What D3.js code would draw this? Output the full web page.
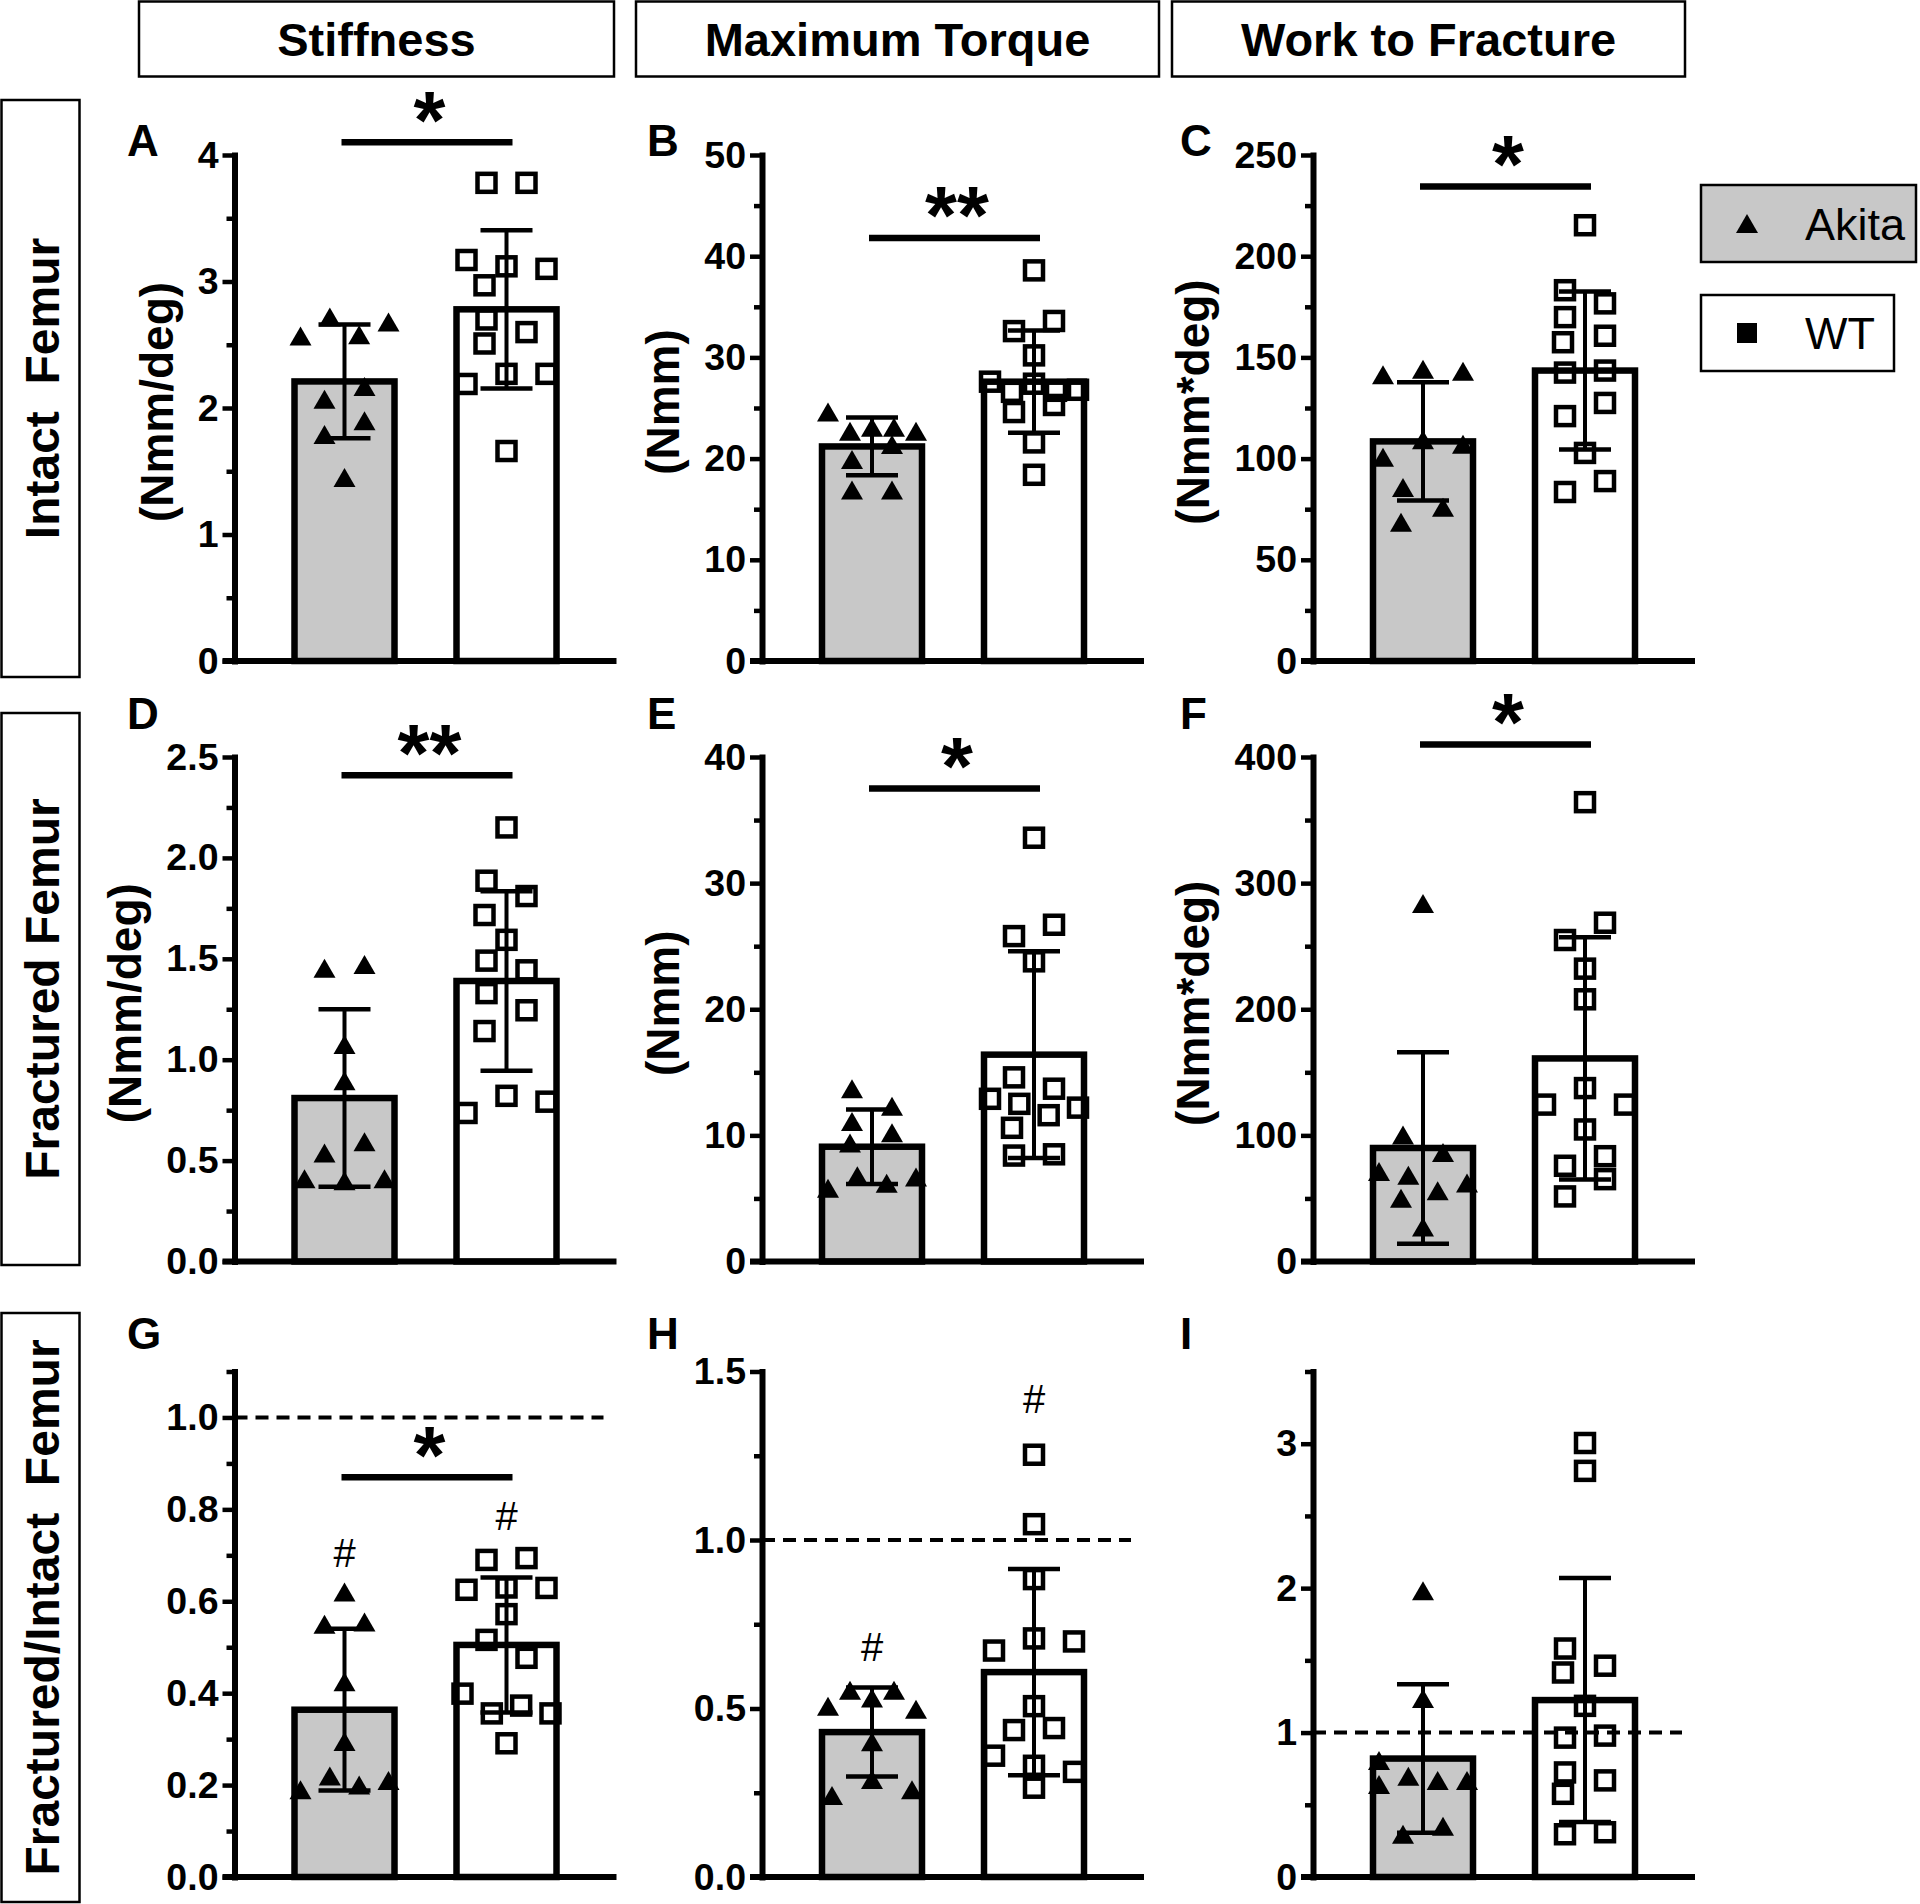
<!DOCTYPE html>
<html><head><meta charset="utf-8">
<script src="https://cdn.jsdelivr.net/npm/d3@7"></script>
<style>
html,body{margin:0;padding:0;background:#fff;}
svg{display:block;font-family:"Liberation Sans",Arial,Helvetica,sans-serif;}
</style></head><body>
<svg id="chart" width="1920" height="1904"></svg>
<script>
// ---------------- data ----------------
const groups = ["Akita", "WT"];
const columnTitles = ["Stiffness", "Maximum Torque", "Work to Fracture"];
const rowTitles = ["Intact  Femur", "Fractured Femur", "Fractured/Intact  Femur"];
const panelLetters = ["A","B","C","D","E","F","G","H","I"];
const yUnitLabels = ["(Nmm/deg)","(Nmm)","(Nmm*deg)","(Nmm/deg)","(Nmm)","(Nmm*deg)","","",""];
const yMax = [4, 50, 250, 2.5, 40, 400, 1.1, 1.5, 3.5];
const yTickLabels = [
  ["0","1","2","3","4"],
  ["0","10","20","30","40","50"],
  ["0","50","100","150","200","250"],
  ["0.0","0.5","1.0","1.5","2.0","2.5"],
  ["0","10","20","30","40"],
  ["0","100","200","300","400"],
  ["0.0","0.2","0.4","0.6","0.8","1.0"],
  ["0.0","0.5","1.0","1.5"],
  ["0","1","2","3"]
];
const yMinorStep = [0.5, 5, 25, 0.25, 5, 50, 0.1, 0.25, 0.5];

const akitaValues = [
  [2.57, 2.72, 2.58, 2.68, 2.07, 2.17, 1.79, 1.90, 1.45],
  [24.6, 22.7, 23.1, 23.1, 22.7, 19.9, 21.4, 16.9, 16.9],
  [141.4, 144.2, 143.1, 100.7, 109.3, 107.1, 85.7, 76.0, 68.6],
  [1.453, 1.472, 1.075, 0.896, 0.538, 0.594, 0.41, 0.40, 0.41],
  [13.7, 12.3, 11.1, 9.4, 10.2, 5.8, 6.8, 6.2, 6.7],
  [283.8, 100.2, 71.3, 86.5, 68.3, 56.1, 62.2, 50.1, 27.3],
  [0.62, 0.55, 0.555, 0.425, 0.295, 0.19, 0.22, 0.20, 0.21],
  [0.507, 0.554, 0.531, 0.554, 0.498, 0.401, 0.242, 0.289, 0.259],
  [1.982, 1.236, 0.807, 0.697, 0.669, 0.669, 0.641, 0.296, 0.351]
];
const wtValues = [
  [3.78, 3.78, 3.17, 3.12, 3.10, 2.97, 2.70, 2.60, 2.51, 2.19, 2.27, 2.27, 1.66],
  [38.6, 32.6, 33.6, 30.2, 27.6, 26.6, 27.4, 26.7, 26.8, 24.6, 25.3, 21.6, 18.4],
  [215.3, 183.2, 176.7, 169.9, 160.7, 157.5, 142.5, 143.5, 121.0, 127.5, 102.8, 83.5, 88.9],
  [2.151, 1.887, 1.811, 1.717, 1.594, 1.491, 1.443, 1.330, 1.245, 1.142, 0.736, 0.821, 0.792],
  [33.6, 25.8, 26.7, 23.8, 14.6, 12.9, 13.7, 12.5, 11.6, 12.2, 10.6, 8.4, 8.5],
  [364.2, 254.9, 268.6, 232.2, 207.9, 124.4, 137.5, 124.4, 104.7, 75.9, 83.5, 51.6, 65.3],
  [0.69, 0.694, 0.625, 0.63, 0.629, 0.572, 0.516, 0.477, 0.399, 0.356, 0.373, 0.356, 0.291],
  [1.253, 1.047, 0.884, 0.672, 0.708, 0.699, 0.507, 0.436, 0.442, 0.36, 0.33, 0.312, 0.265],
  [3.005, 2.812, 1.582, 1.463, 1.416, 1.185, 0.965, 0.979, 0.724, 0.669, 0.576, 0.296, 0.31]
];
const akitaMean = [2.21, 21.2, 108.5, 0.81, 9.1, 90, 0.364, 0.43, 0.82];
const akitaSD   = [0.45, 2.85, 29.2, 0.44, 2.95, 76, 0.176, 0.132, 0.514];
const wtMean    = [2.78, 27.6, 143.5, 1.39, 16.4, 161, 0.505, 0.608, 1.225];
const wtSD      = [0.625, 5.05, 39, 0.445, 8.2, 96, 0.147, 0.306, 0.845];

const sigLabels = ["*", "**", "*", "**", "*", "*", "*", "", ""];
const sigLevel  = [4.1, 41.8, 234.4, 2.41, 37.5, 410, 0.87, null, null];
const refLineValue = [null, null, null, null, null, null, 1, 1, 1];
const hashAkita = [null, null, null, null, null, null, 0.705, 0.683, null];
const hashWT    = [null, null, null, null, null, null, 0.786, 1.42, null];

const legendItems = ["Akita", "WT"];

// ---------------- layout ----------------
const svg = d3.select("#chart");
const colX = [234.5, 762, 1313];
const rowRange = [[661, 155], [1261.5, 757], [1877, 1371.5]];
const letterX = [127, 647, 1180];
const letterY = [156, 729, 1349];
const headerBoxes = [[139, 614], [636, 1159], [1172, 1685]];
const rowBoxes = [[100, 677], [713, 1265], [1313, 1902]];
const fillAkita = "#c8c8c8";
const triPath = "M0,-9.5L11,9.5L-11,9.5Z";

// header boxes
columnTitles.forEach((t, i) => {
  const [x0, x1] = headerBoxes[i];
  svg.append("rect").attr("x", x0).attr("y", 1.5).attr("width", x1 - x0).attr("height", 75)
    .attr("fill", "none").attr("stroke", "#000").attr("stroke-width", 2.5);
  svg.append("text").attr("x", (x0 + x1) / 2).attr("y", 56).attr("text-anchor", "middle")
    .attr("font-size", 47).attr("font-weight", "bold").text(t);
});
// row boxes
rowTitles.forEach((t, i) => {
  const [y0, y1] = rowBoxes[i];
  svg.append("rect").attr("x", 1.5).attr("y", y0).attr("width", 78).attr("height", y1 - y0)
    .attr("fill", "none").attr("stroke", "#000").attr("stroke-width", 2.5);
  svg.append("text").attr("transform", `translate(42,${(y0 + y1) / 2}) rotate(-90)`)
    .attr("text-anchor", "middle").attr("dominant-baseline", "central")
    .attr("font-size", 48).attr("font-weight", "bold").style("white-space", "pre").text(t);
});

// symmetric row-based scatter layout (GraphPad style)
function scatterOffsets(values, y) {
  const ROW_H = 20.5, MS = 21;
  const idx = values.map((v, i) => i).sort((a, b) => values[b] - values[a] || a - b);
  const rows = [];
  let cur = null;
  idx.forEach(i => {
    const py = y(values[i]);
    if (cur && py - cur.y0 < ROW_H) cur.items.push(i);
    else { cur = { y0: py, items: [i] }; rows.push(cur); }
  });
  const off = new Array(values.length);
  const placed = [];
  rows.forEach(r => {
    r.items.sort((a, b) => a - b);
    const n = r.items.length;
    if (n === 1) {
      const i = r.items[0], py = y(values[i]);
      const cands = [0, -22, 22, -44, 44];
      let o = cands.find(c => placed.every(p => Math.abs(p.x - c) >= MS || Math.abs(p.y - py) >= MS));
      if (o === undefined) o = 0;
      off[i] = o; placed.push({ x: o, y: py });
    } else {
      const s = Math.min(40, 88 / (n - 1));
      r.items.forEach((i, k) => {
        off[i] = (k - (n - 1) / 2) * s;
        placed.push({ x: off[i], y: y(values[i]) });
      });
    }
  });
  return off;
}

for (let p = 0; p < 9; p++) {
  const r = Math.floor(p / 3), c = p % 3;
  const X = colX[c];
  const y = d3.scaleLinear().domain([0, yMax[p]]).range(rowRange[r]);
  const x = d3.scaleBand().domain(groups).range([X + 29, X + 353]);
  const cx = g => x(g) + x.bandwidth() / 2;
  const g = svg.append("g");

  const stats = {
    Akita: { mean: akitaMean[p], sd: akitaSD[p], vals: akitaValues[p], fill: fillAkita },
    WT: { mean: wtMean[p], sd: wtSD[p], vals: wtValues[p], fill: "#fff" }
  };

  // bars
  groups.forEach(gr => {
    const s = stats[gr];
    g.append("rect").attr("x", cx(gr) - 50).attr("width", 100)
      .attr("y", y(s.mean)).attr("height", y(0) - y(s.mean))
      .attr("fill", s.fill).attr("stroke", "#000").attr("stroke-width", 6.5);
  });

  // reference line
  if (refLineValue[p] != null) {
    g.append("line").attr("x1", X).attr("x2", X + 369)
      .attr("y1", y(refLineValue[p])).attr("y2", y(refLineValue[p]))
      .attr("stroke", "#000").attr("stroke-width", 4).attr("stroke-dasharray", "13 8");
  }

  // points
  groups.forEach(gr => {
    const s = stats[gr];
    const offs = scatterOffsets(s.vals, y);
    s.vals.forEach((v, i) => {
      const px = cx(gr) + offs[i], py = y(v);
      if (gr === "Akita") {
        g.append("path").attr("d", triPath).attr("transform", `translate(${px},${py})`).attr("fill", "#000");
      } else {
        g.append("rect").attr("x", px - 9).attr("y", py - 9).attr("width", 18).attr("height", 18)
          .attr("fill", "none").attr("stroke", "#000").attr("stroke-width", 4.5);
      }
    });
  });

  // error bars
  groups.forEach(gr => {
    const s = stats[gr];
    const xc = cx(gr), yt = y(s.mean + s.sd), yb = y(s.mean - s.sd);
    g.append("line").attr("x1", xc).attr("x2", xc).attr("y1", yt).attr("y2", yb)
      .attr("stroke", "#000").attr("stroke-width", 4);
    [yt, yb].forEach(yy => g.append("line").attr("x1", xc - 26).attr("x2", xc + 26)
      .attr("y1", yy).attr("y2", yy).attr("stroke", "#000").attr("stroke-width", 4.5));
  });

  // axes
  const major = yTickLabels[p].map(Number);
  const minor = d3.range(yMinorStep[p], yMax[p] + 1e-9, yMinorStep[p])
    .filter(v => !major.some(m => Math.abs(m - v) < 1e-9));
  const minorAxis = g.append("g").attr("transform", `translate(${X},0)`)
    .call(d3.axisLeft(y).tickValues(minor).tickSize(8).tickFormat(""));
  minorAxis.select(".domain").remove();
  minorAxis.selectAll(".tick line").attr("stroke-width", 4.5);
  const majorAxis = g.append("g").attr("transform", `translate(${X},0)`)
    .call(d3.axisLeft(y).tickValues(major).tickSize(12).tickSizeOuter(0).tickPadding(4)
      .tickFormat((d, i) => yTickLabels[p][i]));
  majorAxis.select(".domain").attr("stroke-width", 6).attr("stroke-linecap", "square");
  majorAxis.selectAll(".tick line").attr("stroke-width", 4.5);
  majorAxis.selectAll(".tick text").attr("font-size", 37.5).attr("font-weight", "bold")
    .attr("font-family", "'Liberation Sans', Arial, sans-serif").attr("fill", "#000");

  // x axis baseline
  g.append("line").attr("x1", X - 12).attr("x2", X + 382).attr("y1", y(0)).attr("y2", y(0))
    .attr("stroke", "#000").attr("stroke-width", 6);

  // y unit label
  if (yUnitLabels[p]) {
    let left = Infinity;
    majorAxis.selectAll(".tick text").each(function () {
      const b = this.getBBox();
      const m = this.parentNode.transform.baseVal.consolidate().matrix;
      left = Math.min(left, X + m.e + b.x);
    });
    const lx = left - 41;
    const ly = (rowRange[r][0] + rowRange[r][1]) / 2 - 6;
    g.append("text").attr("transform", `translate(${lx},${ly}) rotate(-90)`)
      .attr("text-anchor", "middle").attr("dominant-baseline", "central")
      .attr("font-size", 46).attr("font-weight", "bold").text(yUnitLabels[p]);
  }

  // panel letter
  g.append("text").attr("x", letterX[c]).attr("y", letterY[r])
    .attr("font-size", 44).attr("font-weight", "bold").text(panelLetters[p]);

  // significance bracket
  if (sigLabels[p]) {
    const ly = y(sigLevel[p]);
    const fs = 82;
    g.append("line").attr("x1", cx("Akita") - 3).attr("x2", cx("WT") + 6)
      .attr("y1", ly).attr("y2", ly).attr("stroke", "#000").attr("stroke-width", 6.5);
    g.append("text").attr("x", (cx("Akita") + cx("WT")) / 2 + 4).attr("y", ly - 38 + 0.53 * fs)
      .attr("text-anchor", "middle").attr("font-size", fs).attr("font-weight", "bold")
      .text(sigLabels[p]);
  }
  // hash marks
  [[hashAkita[p], "Akita"], [hashWT[p], "WT"]].forEach(([v, gr]) => {
    if (v == null) return;
    g.append("text").attr("x", cx(gr)).attr("y", y(v) + 14.4).attr("text-anchor", "middle")
      .attr("font-size", 40).text("#");
  });
}

// legend
const legendBoxes = [[1701, 185, 215, 77], [1701, 295, 193, 76]];
legendItems.forEach((name, i) => {
  const [lx, ly, lw, lh] = legendBoxes[i];
  svg.append("rect").attr("x", lx).attr("y", ly).attr("width", lw).attr("height", lh)
    .attr("fill", i === 0 ? fillAkita : "#fff").attr("stroke", "#000").attr("stroke-width", 2.5);
  const my = ly + lh / 2;
  if (i === 0) svg.append("path").attr("d", triPath).attr("transform", `translate(1747,${my})`).attr("fill", "#000");
  else svg.append("rect").attr("x", 1737).attr("y", my - 10).attr("width", 20).attr("height", 20).attr("fill", "#000");
  svg.append("text").attr("x", 1805).attr("y", my + 16).attr("font-size", 45).text(name);
});
</script>
</body></html>
